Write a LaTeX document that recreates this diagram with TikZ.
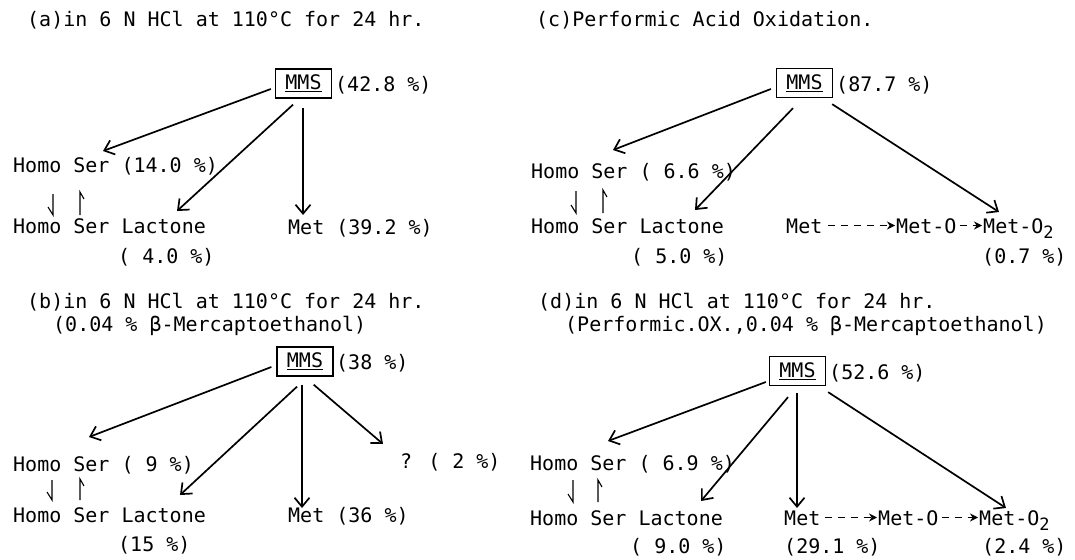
\documentclass[tikz,border=0pt]{standalone}
\usepackage{fontspec}
\setmainfont{DejaVu Sans Mono}
\setmonofont{DejaVu Sans Mono}
\usetikzlibrary{arrows.meta}
\newcommand{\subtwo}{\raisebox{-5pt}{\fontsize{17}{17}\selectfont 2}}
\begin{document}
\begin{tikzpicture}[x=1pt,y=-1pt,
  lbl/.style={inner sep=0pt, anchor=base west, font=\fontsize{20}{24}\selectfont},
  mmsbox/.style={draw, line width=1.3pt, inner sep=0pt, minimum width=56pt, minimum height=29pt, font=\fontsize{20}{24}\selectfont},
  arr/.style={line width=1.7pt, -{Straight Barb[length=9pt,width=15pt,line width=1.7pt]}},
  harp/.style={line width=1.1pt},
  darr/.style={line width=1.5pt, dash pattern=on 7pt off 6pt, -{Stealth[length=8pt,width=8pt]}}]
\useasboundingbox (0,0) rectangle (1075,559);

% ---------------- panel (a)
\node[lbl] (tA) at (27,27) {(a)in 6 N HCl at 110°C for 24 hr.};
\node[mmsbox] (mmsA) at (303.5,83.5) {\underline{MMS}};
\node[lbl] (pA) at (335,92) {(42.8 \%)};
\node[lbl] (hsA) at (13,172) {Homo Ser (14.0 \%)};
\node[lbl] (lcA) at (13,233) {Homo Ser Lactone};
\node[lbl] (lpA) at (118,263) {( 4.0 \%)};
\node[lbl] (metA) at (288,234) {Met (39.2 \%)};
\draw[arr] ([shift={(-4,5.5)}]mmsA.west) -- ([shift={(90,-21)}]hsA.base west);
\draw[arr] ([shift={(-10.5,6)}]mmsA.south) -- ([shift={(164,-22)}]lcA.base west);
\draw[arr] ([shift={(-0.5,9)}]mmsA.south) -- ([shift={(15,-19)}]metA.base west);
\draw[harp] ([shift={(40,22)}]hsA.base west) -- ([shift={(40,-18)}]lcA.base west) -- ++(-5,-8);
\draw[harp] ([shift={(67,-18)}]lcA.base west) -- ([shift={(67,20)}]hsA.base west) -- ++(4,7);

% ---------------- panel (c)
\node[lbl] (tC) at (536,27) {(c)Performic Acid Oxidation.};
\node[mmsbox] (mmsC) at (804.5,83) {\underline{MMS}};
\node[lbl] (pC) at (836,92) {(87.7 \%)};
\node[lbl] (hsC) at (531,178) {Homo Ser ( 6.6 \%)};
\node[lbl] (lcC) at (531,233) {Homo Ser Lactone};
\node[lbl] (lpC) at (631,263) {( 5.0 \%)};
\node[lbl] (metC1) at (786,233) {Met};
\node[lbl] (metC2) at (896,233) {Met-O};
\node[lbl] (metC3) at (983,233) {Met-O\subtwo};
\node[lbl] (o2pC) at (982,263) {(0.7 \%)};
\draw[arr] ([shift={(-5,6)}]mmsC.west) -- ([shift={(82,-28)}]hsC.base west);
\draw[arr] ([shift={(-11.5,10)}]mmsC.south) -- ([shift={(164,-23)}]lcC.base west);
\draw[arr] ([shift={(-1,6)}]mmsC.south east) -- ([shift={(16,-21)}]metC3.base west);
\draw[darr] ([shift={(5,-7.5)}]metC1.base east) -- ([shift={(-1,-7.5)}]metC2.base west);
\draw[darr] ([shift={(3,-7.5)}]metC2.base east) -- ([shift={(-1,-7.5)}]metC3.base west);
\draw[harp] ([shift={(45,13)}]hsC.base west) -- ([shift={(45,-20)}]lcC.base west) -- ++(-5,-8);
\draw[harp] ([shift={(72,-20)}]lcC.base west) -- ([shift={(72,12)}]hsC.base west) -- ++(4,7);

% ---------------- panel (b)
\node[lbl] (tB1) at (27,308) {(b)in 6 N HCl at 110°C for 24 hr.};
\node[lbl] (tB2) at (53,331) {(0.04 \% β-Mercaptoethanol)};
\node[mmsbox] (mmsB) at (305,361.5) {\underline{MMS}};
\node[lbl] (pB) at (336,369) {(38 \%)};
\node[lbl] (hsB) at (13,471) {Homo Ser ( 9 \%)};
\node[lbl] (lcB) at (13,522) {Homo Ser Lactone};
\node[lbl] (lpB) at (118,551) {(15 \%)};
\node[lbl] (metB) at (288,522) {Met (36 \%)};
\node[lbl] (qB) at (400,468) {? ( 2 \%)};
\draw[arr] ([shift={(-5,5.5)}]mmsB.west) -- ([shift={(76,-34)}]hsB.base west);
\draw[arr] ([shift={(-8,10)}]mmsB.south) -- ([shift={(167,-27)}]lcB.base west);
\draw[arr] ([shift={(-3,8)}]mmsB.south) -- ([shift={(14,-14)}]metB.base west);
\draw[arr] ([shift={(-20,8)}]mmsB.south east) -- ([shift={(-17,-24)}]qB.base west);
\draw[harp] ([shift={(39,9)}]hsB.base west) -- ([shift={(39,-22)}]lcB.base west) -- ++(-5,-8);
\draw[harp] ([shift={(67,-22)}]lcB.base west) -- ([shift={(67,8)}]hsB.base west) -- ++(4,7);

% ---------------- panel (d)
\node[lbl] (tD1) at (538,308) {(d)in 6 N HCl at 110°C for 24 hr.};
\node[lbl] (tD2) at (565,331) {(Performic.OX.,0.04 \% β-Mercaptoethanol)};
\node[mmsbox] (mmsD) at (797.5,371) {\underline{MMS}};
\node[lbl] (pD) at (829,379) {(52.6 \%)};
\node[lbl] (hsD) at (530,470) {Homo Ser ( 6.9 \%)};
\node[lbl] (lcD) at (530,525) {Homo Ser Lactone};
\node[lbl] (lpD) at (630,553) {( 9.0 \%)};
\node[lbl] (metD1) at (784,525) {Met};
\node[lbl] (metD2) at (878,525) {Met-O};
\node[lbl] (metD3) at (979,525) {Met-O\subtwo};
\node[lbl] (metpD) at (784,553) {(29.1 \%)};
\node[lbl] (o2pD) at (982,553) {(2.4 \%)};
\draw[arr] ([shift={(-3,11)}]mmsD.west) -- ([shift={(78,-29)}]hsD.base west);
\draw[arr] ([shift={(-9.5,11)}]mmsD.south) -- ([shift={(171,-24)}]lcD.base west);
\draw[arr] ([shift={(-0.5,7)}]mmsD.south) -- ([shift={(13,-17)}]metD1.base west);
\draw[arr] ([shift={(2,6)}]mmsD.south east) -- ([shift={(27,-17)}]metD3.base west);
\draw[darr] ([shift={(4,-7.5)}]metD1.base east) -- ([shift={(-1,-7.5)}]metD2.base west);
\draw[darr] ([shift={(3,-7.5)}]metD2.base east) -- ([shift={(-1,-7.5)}]metD3.base west);
\draw[harp] ([shift={(43,10)}]hsD.base west) -- ([shift={(43,-23)}]lcD.base west) -- ++(-5,-8);
\draw[harp] ([shift={(68,-23)}]lcD.base west) -- ([shift={(68,10)}]hsD.base west) -- ++(4,7);
\end{tikzpicture}
\end{document}
